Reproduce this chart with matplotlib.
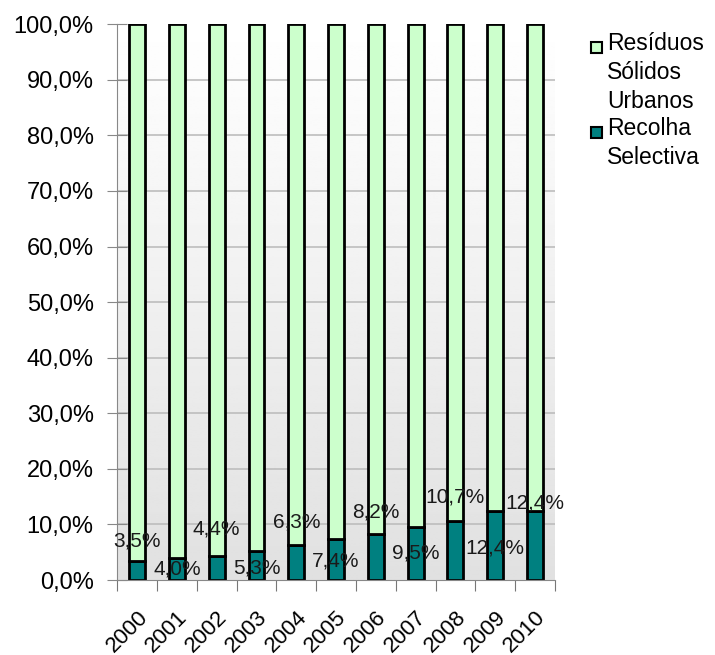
import numpy as np
import matplotlib.pyplot as plt
from matplotlib.patches import Rectangle

plt.rcParams['font.family'] = ['Liberation Sans', 'DejaVu Sans']

years = ["2000", "2001", "2002", "2003", "2004", "2005",
         "2006", "2007", "2008", "2009", "2010"]
recolha = [3.5, 4.0, 4.4, 5.3, 6.3, 7.4, 8.2, 9.5, 10.7, 12.4, 12.4]
rsu = [100 - v for v in recolha]
label_vals = [3.5, 4.0, 4.4, 5.3, 6.3, 7.4, 8.2, 9.5, 10.7, 12.4, 12.4]
legend_names = ["Resíduos\nSólidos\nUrbanos", "Recolha\nSelectiva"]
legend_colors = ['#ccffcc', '#008080']

# vertical placement of the data labels (as in the original, scattered)
label_y = [7.0, 2.0, 9.2, 2.2, 10.4, 3.4, 12.2, 4.9, 14.9, 5.8, 13.8]

fig = plt.figure(figsize=(7.15, 6.55), dpi=100)
ax = fig.add_axes([0.164, 0.1145, 0.612, 0.8485])

x = np.arange(len(years))
ax.set_xlim(-0.5, len(years) - 0.5)
ax.set_ylim(0, 100)

# gradient background
grad = np.linspace(0.88, 1.0, 256).reshape(-1, 1)
ax.imshow(grad, extent=(-0.5, len(years) - 0.5, 0, 100), aspect='auto',
          cmap='gray', vmin=0, vmax=1, origin='lower', zorder=0)

for v in range(10, 100, 10):
    ax.axhline(v, color='#bdbdbd', lw=1.2, zorder=1)

ax.bar(x, recolha, width=0.4, color='#008080', edgecolor='black', lw=2, zorder=2)
ax.bar(x, rsu, bottom=recolha, width=0.4, color='#ccffcc', edgecolor='black',
       lw=2, zorder=2)

for xi, v, ly in zip(x, label_vals, label_y):
    ax.text(xi, ly, f"{v:.1f}%".replace('.', ','), ha='center', va='center',
            fontsize=15, color='#1a1a1a', zorder=3)

ax.set_yticks(range(0, 101, 10))
ax.set_yticklabels([f"{v},0%" for v in range(0, 101, 10)], fontsize=17)
ax.set_xticks(np.arange(-0.5, len(years), 1), minor=False)
ax.set_xticklabels([])
ax.set_xticks(x, minor=True)
ax.set_xticklabels(years, minor=True, rotation=45, ha='right',
                   rotation_mode='anchor', fontsize=16)
ax.tick_params(axis='x', which='minor', length=0, pad=19)
ax.tick_params(axis='x', which='major', length=8, color='#777777', direction='out')
ax.tick_params(axis='y', length=14, color='#888888', direction='inout', pad=10)

for s in ['top', 'right']:
    ax.spines[s].set_visible(False)
ax.spines['left'].set_color('#888888')
ax.spines['bottom'].set_color('#888888')

# legend drawn by hand so the marker sits on the first line of each entry
W, H = 715, 655
for name, col, (ty, my) in zip(legend_names, legend_colors,
                               [(32, 47), (117, 132)]):
    fig.patches.append(Rectangle((591 / W, 1 - (my + 6) / H), 11 / W, 11 / H,
                                 transform=fig.transFigure, facecolor=col,
                                 edgecolor='black', lw=1.5))
    fig.text(607 / W, 1 - ty / H, name, ha='left', va='top', fontsize=16.5,
             linespacing=1.32)

fig.savefig("out.png", dpi=100)
